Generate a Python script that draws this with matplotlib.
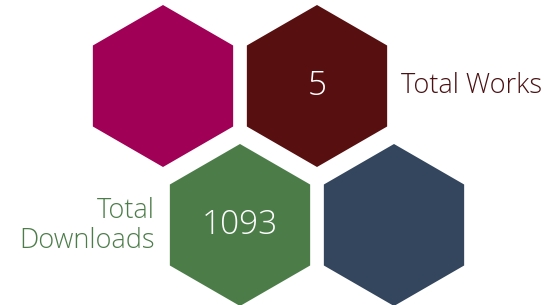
import matplotlib.pyplot as plt
from matplotlib.patches import RegularPolygon

# hexagon tiles: centre position in pixels, colour and value
hex_x = [163, 317, 240, 394]
hex_y = [86, 86, 225, 225]
hex_colors = ['#A00055', '#570F10', '#4C7D49', '#33465D']
hex_values = ['', '5', '1093', '']

labels = ['Total Works', 'Total\nDownloads']
label_colors = ['#4A1012', '#4C7D49']

plt.rcParams['font.family'] = ['Open Sans', 'DejaVu Sans']

fig = plt.figure(figsize=(5.48, 3.05), dpi=100)
ax = fig.add_axes([0, 0, 1, 1])
ax.set_xlim(0, 548)
ax.set_ylim(305, 0)
ax.set_aspect('equal')
ax.axis('off')

for x, y, c, v in zip(hex_x, hex_y, hex_colors, hex_values):
    ax.add_patch(RegularPolygon((x, y), numVertices=6, radius=81, orientation=0,
                                facecolor=c, edgecolor='none'))
    ax.text(x, y, v, color='white', fontsize=24, fontweight='light',
            ha='center', va='center')

# side labels
ax.text(401, 86, labels[0], color=label_colors[0], fontsize=19.5, fontweight='light',
        ha='left', va='center')
ax.text(155, 226, labels[1], color=label_colors[1], fontsize=19.5, fontweight='light',
        ha='right', va='center', multialignment='right', linespacing=1.1)

fig.savefig('out.png', dpi=100)
